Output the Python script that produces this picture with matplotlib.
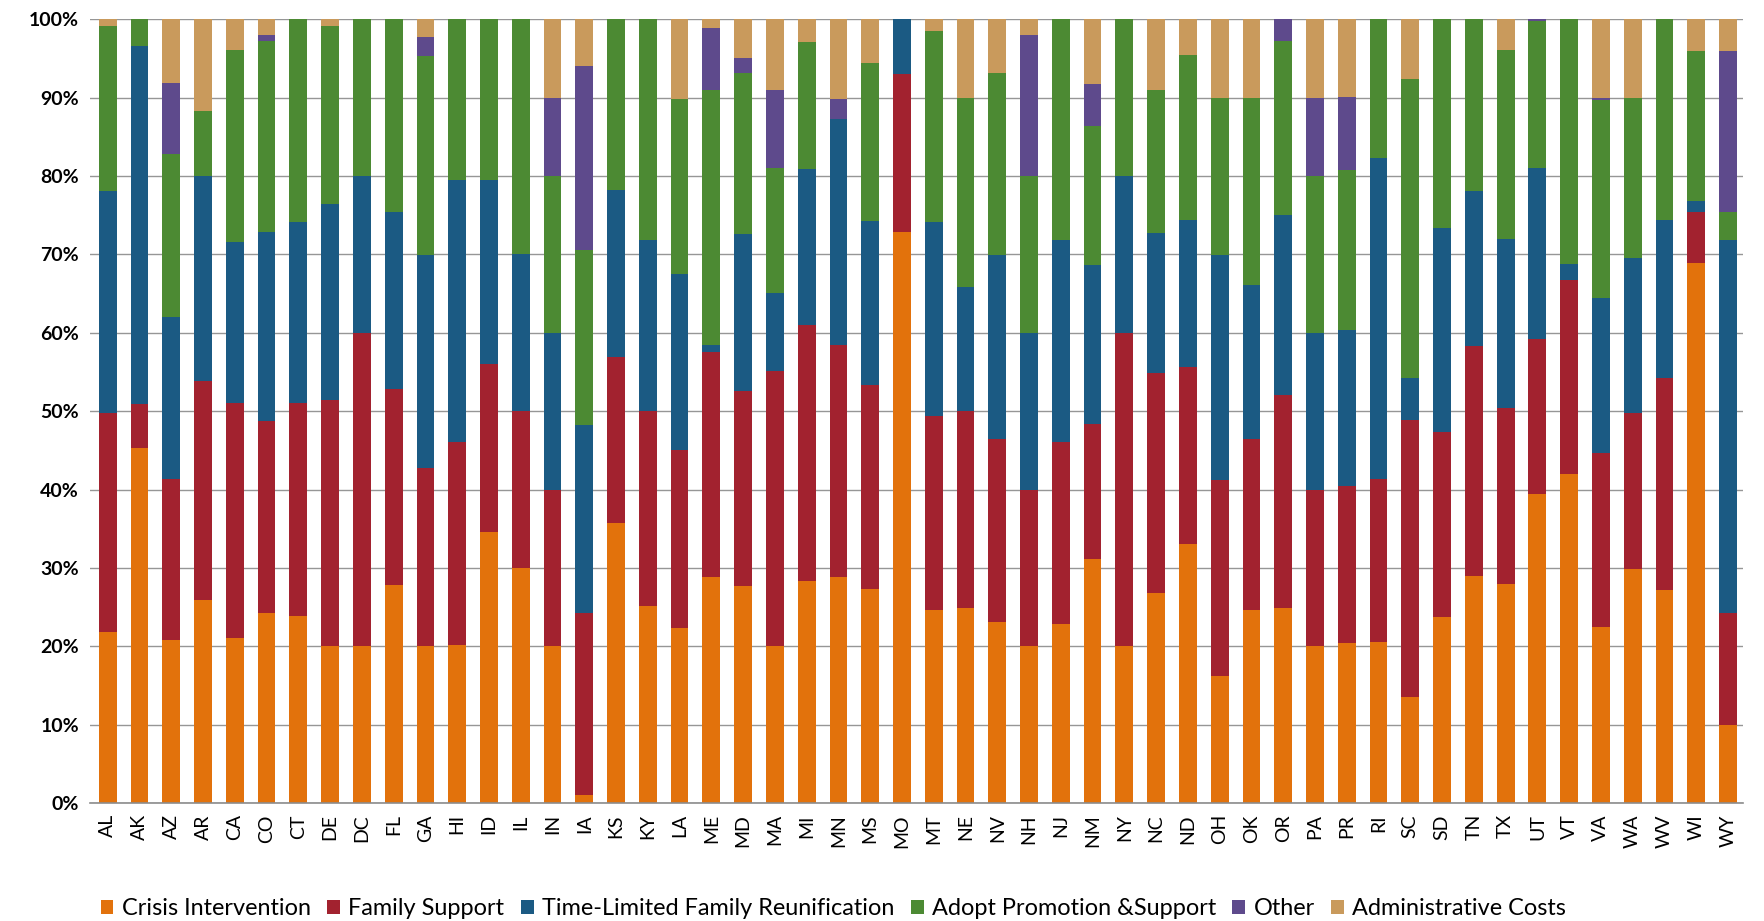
import matplotlib

matplotlib.use("Agg")
import matplotlib.pyplot as plt
import numpy as np

plt.rcParams["font.family"] = ["Lato", "DejaVu Sans"]

STATES = ["AL", "AK", "AZ", "AR", "CA", "CO", "CT", "DE", "DC", "FL", "GA", "HI", "ID",
          "IL", "IN", "IA", "KS", "KY", "LA", "ME", "MD", "MA", "MI", "MN", "MS", "MO",
          "MT", "NE", "NV", "NH", "NJ", "NM", "NY", "NC", "ND", "OH", "OK", "OR", "PA",
          "PR", "RI", "SC", "SD", "TN", "TX", "UT", "VT", "VA", "WA", "WV", "WI", "WY"]

# share of spending per category (%)
crisis = [21.8, 45.3, 20.8, 25.9, 21.1, 24.3, 23.9, 20.1, 20.0, 27.8, 20.1, 20.2, 34.6,
          30.0, 20.0, 1.0, 35.7, 25.2, 22.4, 28.9, 27.7, 20.0, 28.3, 28.9, 27.3, 72.9,
          24.6, 24.9, 23.1, 20.0, 22.9, 31.2, 20.0, 26.8, 33.1, 16.2, 24.7, 24.9, 20.0,
          20.4, 20.6, 13.5, 23.8, 29.0, 28.0, 39.4, 42.0, 22.5, 29.9, 27.2, 68.9, 10.0]
family_support = [28.0, 5.6, 20.5, 27.9, 30.0, 24.4, 27.1, 31.3, 40.0, 25.0, 22.6, 25.9, 21.4,
                  20.0, 20.0, 23.3, 21.2, 24.8, 22.6, 28.6, 24.9, 35.1, 32.7, 29.5, 26.0, 20.1,
                  24.8, 25.1, 23.4, 20.0, 23.2, 17.2, 40.0, 28.1, 22.6, 25.0, 21.8, 27.2, 20.0,
                  20.0, 20.8, 35.4, 23.6, 29.3, 22.4, 19.8, 24.8, 22.2, 19.9, 27.0, 6.5, 14.3]
reunification = [28.3, 45.7, 20.7, 26.2, 20.5, 24.2, 23.1, 25.0, 20.0, 22.6, 27.2, 33.4, 23.5,
                 20.0, 20.0, 23.9, 21.3, 21.9, 22.5, 1.0, 20.0, 10.0, 19.9, 28.9, 21.0, 7.0,
                 24.7, 15.9, 23.4, 20.0, 25.8, 20.3, 20.0, 17.9, 18.7, 28.7, 19.6, 22.9, 20.0,
                 19.9, 40.9, 5.4, 26.0, 19.8, 21.6, 21.8, 2.0, 19.8, 19.8, 20.2, 1.4, 47.5]
adoption = [21.1, 3.4, 20.8, 8.3, 24.5, 24.3, 25.9, 22.8, 20.0, 24.6, 25.4, 20.5, 20.5,
            30.0, 20.0, 22.4, 21.8, 28.1, 22.4, 32.5, 20.5, 15.9, 16.2, 0.0, 20.1, 0.0,
            24.4, 24.1, 23.2, 20.0, 28.1, 17.7, 20.0, 18.2, 21.1, 20.1, 23.9, 22.3, 20.0,
            20.5, 17.7, 38.1, 26.6, 21.9, 24.1, 18.8, 31.2, 25.2, 20.4, 25.6, 19.1, 3.6]
other = [0.0, 0.0, 9.1, 0.0, 0.0, 0.8, 0.0, 0.0, 0.0, 0.0, 2.5, 0.0, 0.0,
         0.0, 10.0, 23.5, 0.0, 0.0, 0.0, 7.9, 2.0, 10.0, 0.0, 2.6, 0.0, 0.0,
         0.0, 0.0, 0.0, 18.0, 0.0, 5.4, 0.0, 0.0, 0.0, 0.0, 0.0, 2.7, 10.0,
         9.3, 0.0, 0.0, 0.0, 0.0, 0.0, 0.2, 0.0, 0.3, 0.0, 0.0, 0.0, 20.5]
admin = [0.8, 0.0, 8.1, 11.7, 3.9, 2.0, 0.0, 0.8, 0.0, 0.0, 2.2, 0.0, 0.0,
         0.0, 10.0, 5.9, 0.0, 0.0, 10.1, 1.1, 4.9, 9.0, 2.9, 10.1, 5.6, 0.0,
         1.5, 10.0, 6.9, 2.0, 0.0, 8.2, 0.0, 9.0, 4.5, 10.0, 10.0, 0.0, 10.0,
         9.9, 0.0, 7.6, 0.0, 0.0, 3.9, 0.0, 0.0, 10.0, 10.0, 0.0, 4.1, 4.1]

SERIES = [
    ("Crisis Intervention", crisis, "#E2720C"),
    ("Family Support", family_support, "#A2222F"),
    ("Time-Limited Family Reunification", reunification, "#1B5A83"),
    ("Adopt Promotion &Support", adoption, "#4C8A33"),
    ("Other", other, "#5E4A8C"),
    ("Administrative Costs", admin, "#C99A5C"),
]

fig = plt.figure(figsize=(17.65, 9.21), dpi=100)
ax = fig.add_axes([0.051, 0.128, 0.9365, 0.851])

x = np.arange(len(STATES))
data = np.array([s[1] for s in SERIES])
data = data / data.sum(axis=0) * 100
bottom = np.zeros(len(STATES))
for (label, _, color), vals in zip(SERIES, data):
    ax.bar(x, vals, 0.56, bottom=bottom, color=color, label=label, zorder=2)
    bottom += vals

ax.set_xlim(-0.557, len(STATES) - 1 + 0.47)
ax.set_ylim(0, 100)
ax.set_yticks(np.arange(0, 101, 10))
ax.set_yticklabels([f"{v}%" for v in range(0, 101, 10)], fontsize=14, fontweight="bold")
ax.set_xticks(x)
ax.set_xticklabels(STATES, rotation=90, fontsize=14)
ax.tick_params(axis="both", length=0, pad=8)
ax.grid(axis="y", color="#969696", linewidth=1.0, zorder=0)
ax.set_axisbelow(True)
for side in ["left", "right", "top"]:
    ax.spines[side].set_visible(False)
ax.spines["bottom"].set_color("#8c8c8c")
ax.spines["bottom"].set_linewidth(1.2)

fig.legend(loc="lower left", bbox_to_anchor=(0.045, -0.021), ncol=6, frameon=False,
           fontsize=16.9, handlelength=0.55, handleheight=0.55, handletextpad=0.35,
           columnspacing=0.7)

fig.savefig("out.png", dpi=100)
